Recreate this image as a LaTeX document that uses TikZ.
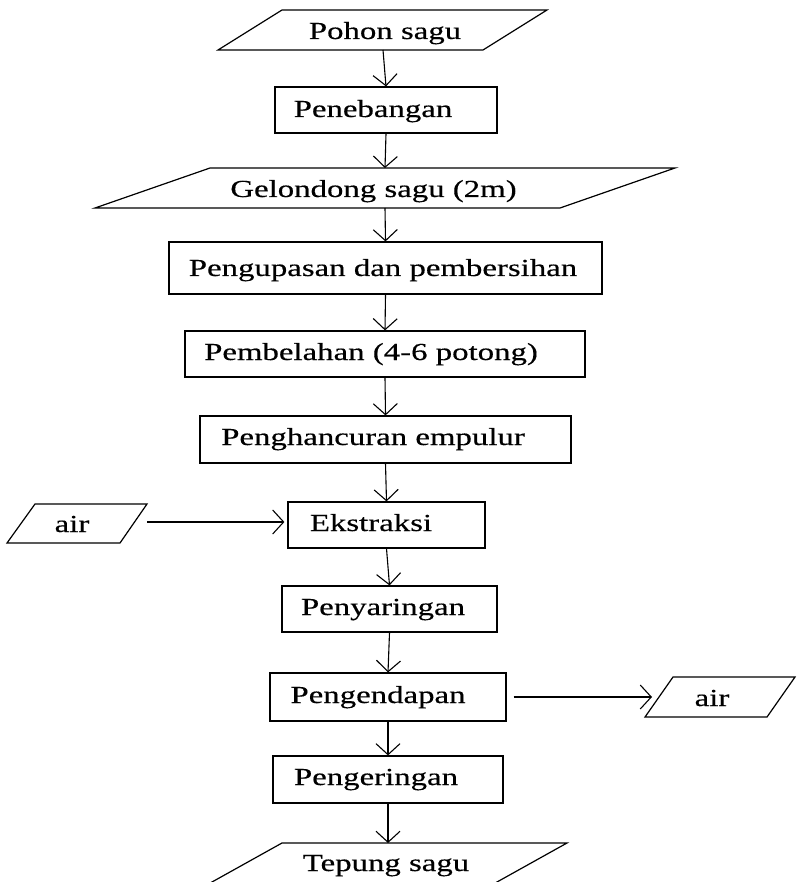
\documentclass[tikz,border=0pt]{standalone}
\usepackage{fontspec}
\setmainfont{Liberation Serif}[FakeStretch=1.34, FakeBold=0.4]
\usetikzlibrary{arrows.meta,calc}
\begin{document}
\begin{tikzpicture}[x=1pt,y=-1pt,
  font=\fontsize{24.5}{28}\selectfont,
  box/.style={draw, rectangle, inner sep=0pt, line width=1.2pt},
  txt/.style={inner sep=0pt, anchor=base},
  flow/.style={-{Straight Barb[length=11pt,width=24pt]}, line width=1.1pt},
  para/.style={draw, line width=1.2pt, line join=miter}]
\useasboundingbox (0,0) rectangle (796,882);

% input: sago tree
\draw[para] (282,10) -- (547,10) -- (483,50) -- (218,50) -- cycle;
\node[txt] (pohon) at (385,39) {Pohon sagu};
\coordinate (pohonB) at (383,50);

% felling
\node[box, minimum width=222pt, minimum height=46pt] (neb) at (386,110) {};
\node[txt] (nebT) at (373,117) {Penebangan};

% logs
\draw[para] (210,168) -- (675,168) -- (560,208) -- (95,208) -- cycle;
\node[txt] (gel) at (373.5,197) {Gelondong sagu (2m)};
\coordinate (gelT) at (385,168);
\coordinate (gelB) at (385,208);

% peeling and cleaning
\node[box, minimum width=433pt, minimum height=52pt] (kup) at (385.5,268) {};
\node[txt] (kupT) at (383,276) {Pengupasan dan pembersihan};

% splitting
\node[box, minimum width=400pt, minimum height=46pt] (bel) at (385,354) {};
\node[txt] (belT) at (371,360) {Pembelahan (4-6 potong)};

% crushing the pith
\node[box, minimum width=371pt, minimum height=47pt] (han) at (385.5,439.5) {};
\node[txt] (hanT) at (373,445) {Penghancuran empulur};

% extraction
\node[box, minimum width=197pt, minimum height=46pt] (eks) at (386.5,525) {};
\node[txt] (eksT) at (371,531) {Ekstraksi};

% water in
\draw[para] (35,504) -- (147,504) -- (120,543) -- (7,543) -- cycle;
\node[txt] (airL) at (72,532) {air};
\coordinate (airLr) at (147,522);

% filtering
\node[box, minimum width=215pt, minimum height=46pt] (sar) at (389.5,609) {};
\node[txt] (sarT) at (383,615) {Penyaringan};

% settling
\node[box, minimum width=236pt, minimum height=48pt] (end) at (388,697) {};
\node[txt] (endT) at (378,703) {Pengendapan};

% water out
\draw[para] (673,677) -- (795,677) -- (767,717) -- (645,717) -- cycle;
\node[txt] (airR) at (712,706) {air};
\coordinate (airRl) at (652,697);

% drying
\node[box, minimum width=230pt, minimum height=47pt] (ker) at (388,779.5) {};
\node[txt] (kerT) at (376,785) {Pengeringan};

% output: sago flour
\draw[para] (208.4,884) -- (282,843) -- (567,843) -- (493.4,884);
\node[txt] (tep) at (386,871) {Tepung sagu};
\coordinate (tepT) at (388,843);

% connectors
\draw[flow] (pohonB) -- (neb.north);
\draw[flow] (neb.south) -- (gelT);
\draw[flow] (gelB) -- (kup.north);
\draw[flow] (kup.south) -- (bel.north);
\draw[flow] (bel.south) -- (han.north);
\draw[flow] (han.south) -- (eks.north);
\draw[flow] (airLr) -- ([xshift=-3pt]airLr -| eks.west);
\draw[flow] (eks.south) -- (sar.north);
\draw[flow] (sar.south) -- (end.north);
\draw[flow] ([xshift=7pt]end.east) -- (airRl);
\draw[flow] (end.south) -- (ker.north);
\draw[flow] (ker.south) -- (tepT);
\end{tikzpicture}
\end{document}
